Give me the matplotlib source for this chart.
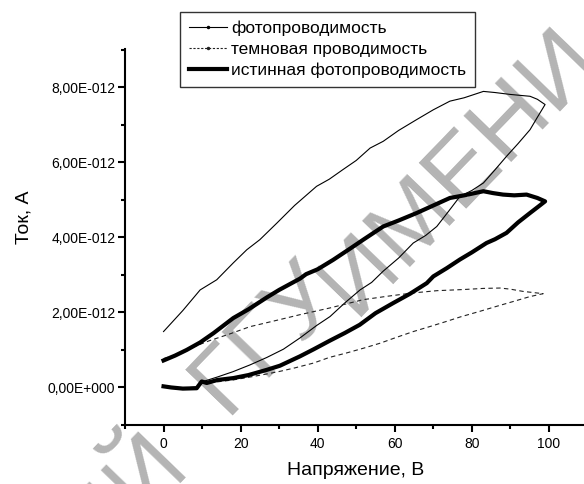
import numpy as np
import matplotlib
matplotlib.use('Agg')
import matplotlib.pyplot as plt
from matplotlib.ticker import MultipleLocator, FuncFormatter
from matplotlib.lines import Line2D

plt.rcParams['font.family'] = ['Liberation Sans', 'DejaVu Sans']

# data (current in units of 1e-12 A)
# фотопроводимость: forward sweep 0 -> 99 V, then back
photo_v = [0, 5, 9.5, 13.8, 18.1, 21.6, 25, 29.4, 34, 39.7, 43, 46.6, 50, 53.6, 57,
           61, 65.7, 70, 74.3, 78, 83, 86, 89.9, 93, 95.1, 97, 99,
           97, 95.1, 92, 89, 86, 83, 80, 76.9, 74, 70.9, 68, 64.8, 61, 57, 54, 51,
           47, 43.2, 39.7, 35.4, 31.1, 26.8, 22.4, 18, 14, 10.3, 9, 5, 2, 0]
photo_i = [1.49, 2.05, 2.6, 2.87, 3.32, 3.67, 3.94, 4.38, 4.85, 5.36, 5.55, 5.81, 6.05, 6.38, 6.56,
           6.85, 7.14, 7.4, 7.63, 7.72, 7.89, 7.86, 7.81, 7.78, 7.76, 7.68, 7.54,
           7.2, 6.87, 6.5, 6.16, 5.8, 5.45, 5.25, 5.09, 4.7, 4.29, 4.05, 3.85, 3.45, 3.1, 2.8, 2.6,
           2.25, 1.89, 1.65, 1.32, 1.02, 0.8, 0.6, 0.42, 0.28, 0.16, 0.02, -0.02, 0.0, 0.05]

# темновая проводимость
dark_v = [0, 4, 7.7, 12, 17, 22.4, 30.2, 35.4, 43.2, 51.8, 58, 64.8, 71, 77.8, 83, 87.3, 90,
          93.3, 98.5,
          95, 90.7, 86, 82.1, 77, 73.4, 69, 64.8, 60, 56.2, 52, 47.5, 43, 38.9, 34, 30.2,
          26.8, 22, 18, 14, 10.3]
dark_i = [0.77, 0.9, 1.08, 1.25, 1.42, 1.62, 1.81, 1.94, 2.12, 2.34, 2.43, 2.52, 2.58, 2.61, 2.64,
          2.65, 2.62, 2.56, 2.5,
          2.42, 2.29, 2.15, 2.03, 1.88, 1.76, 1.62, 1.49, 1.32, 1.18, 1.05, 0.92, 0.8, 0.65, 0.52,
          0.43, 0.36, 0.27, 0.2, 0.15, 0.12]

# истинная фотопроводимость
true_v = [0, 3, 6, 9.5, 13, 18.1, 22, 26.8, 30, 35.4, 37, 40, 44, 48.4, 52, 57, 61, 65.7, 70, 74.3,
          78, 83, 85.5, 88.1, 91, 94.2, 97, 99,
          97, 95.1, 92, 89, 86, 83.8, 80, 76.9, 73.5, 70, 68.3, 64, 59.6, 55, 50.9, 47, 43.2,
          39, 35.4, 30.2, 26.8, 22, 18.1, 14, 11.2, 9.9, 8.6, 5, 2, 0]
true_i = [0.72, 0.85, 1.0, 1.2, 1.45, 1.85, 2.08, 2.4, 2.6, 2.9, 3.02, 3.15, 3.4, 3.7, 3.95, 4.29, 4.45,
          4.65, 4.85, 5.05, 5.12, 5.23, 5.18, 5.14, 5.12, 5.14, 5.05, 4.96,
          4.8, 4.65, 4.4, 4.12, 3.95, 3.85, 3.6, 3.41, 3.18, 2.96, 2.78, 2.5, 2.25, 1.98, 1.67,
          1.45, 1.25, 1.02, 0.83, 0.58, 0.47, 0.33, 0.25, 0.2, 0.12, 0.16, -0.02, -0.03, 0.0, 0.03]

labels = ['фотопроводимость', 'темновая проводимость', 'истинная фотопроводимость']


def sci_label(v, pos):
    val = v * 1e-12
    if abs(val) < 1e-20:
        return '0,00E+000'
    e = int(np.floor(np.log10(abs(val)) + 1e-9))
    m = val / 10 ** e
    return ('%.2f' % m).replace('.', ',') + 'E%s%03d' % ('+' if e >= 0 else '-', abs(e))


fig = plt.figure(figsize=(5.84, 4.84), dpi=100)
ax = fig.add_axes([125 / 584, 59 / 484, 459 / 584, 376 / 484])
ax.patch.set_alpha(0)

# watermark
wm = dict(color='#b4b4b4', fontsize=70, rotation=46, rotation_mode='anchor',
          ha='center', va='center', zorder=-1)
fig.text(460 / 584, 1 - 172 / 484, 'ИМЕНИ', **wm)
fig.text(265 / 584, 1 - 338 / 484, 'ГГУ', **wm)
wm['ha'] = 'right'
fig.text(172 / 584, 1 - 448 / 484, 'РЕПОЗИТОРИЙ', **wm)

ax.plot(photo_v, photo_i, '-', color='black', linewidth=0.8)
ax.plot(dark_v, dark_i, color='#222222', linewidth=0.8, linestyle=(0, (4, 3)))
ax.plot(true_v, true_i, '-', color='black', linewidth=3.0, solid_joinstyle='round')

ax.set_xlim(-10, 109.1)
ax.set_ylim(-1.0, 9.02)
ax.xaxis.set_major_locator(MultipleLocator(20))
ax.xaxis.set_minor_locator(MultipleLocator(10))
ax.yaxis.set_major_locator(MultipleLocator(2))
ax.yaxis.set_minor_locator(MultipleLocator(1))
ax.yaxis.set_major_formatter(FuncFormatter(sci_label))

for s in ['top', 'right']:
    ax.spines[s].set_visible(False)
for s in ['left', 'bottom']:
    ax.spines[s].set_linewidth(1.5)
ax.tick_params(which='major', direction='out', length=5, width=1.5, labelsize=10, pad=2)
ax.tick_params(which='minor', direction='out', length=3, width=1.5)
ax.tick_params(axis='x', which='major', pad=4)

ax.set_xlabel('Напряжение, В', fontsize=14)
ax.set_ylabel('Ток, А', fontsize=14)
ax.xaxis.label.set_va('center')
ax.yaxis.label.set_va('center')
ax.xaxis.set_label_coords(0.503, -0.122)
ax.yaxis.set_label_coords(-0.22, 0.553)

handles = [Line2D([], [], color='black', linewidth=0.8, marker='.', markersize=3),
           Line2D([], [], color='#222222', linewidth=0.8, linestyle=(0, (2, 1.5)),
                  marker='.', markersize=3),
           Line2D([], [], color='black', linewidth=3.0)]
leg = ax.legend(handles, labels, loc='upper left', bbox_to_anchor=(180 / 584, 1 - 12 / 484),
                bbox_transform=fig.transFigure, fontsize=12.5, frameon=True, fancybox=False,
                borderaxespad=0, borderpad=0.5, labelspacing=0.33, handlelength=2.2,
                handletextpad=0.25)
leg.get_frame().set_edgecolor('black')
leg.get_frame().set_linewidth(1.0)

fig.savefig('out.png', dpi=100)
